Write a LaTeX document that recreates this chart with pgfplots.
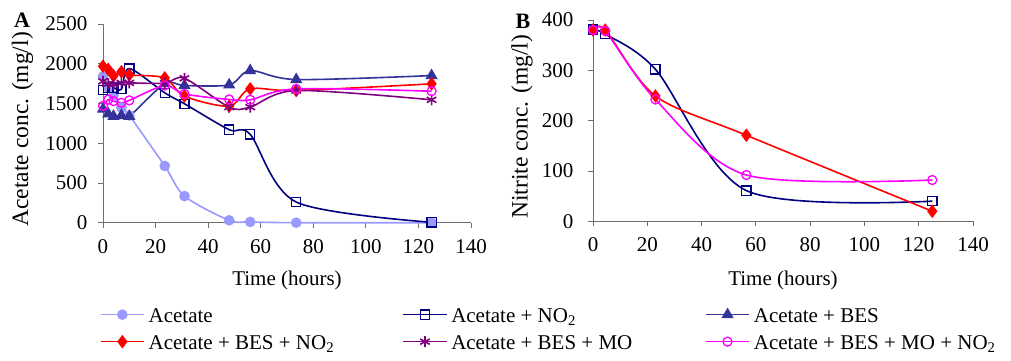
\documentclass[border=0pt]{standalone}
\usepackage{pgfplots}
\pgfplotsset{compat=1.18}
\usepackage{fontspec}
\setmainfont{Liberation Serif}
\definecolor{cAc}{RGB}{153,153,255}
\definecolor{cNO}{RGB}{0,0,128}
\definecolor{cBES}{RGB}{51,51,153}
\definecolor{cBN}{RGB}{255,0,0}
\definecolor{cBM}{RGB}{128,0,128}
\definecolor{cBMN}{RGB}{255,0,255}
\definecolor{axgray}{RGB}{110,110,110}
\begin{document}
\begin{tikzpicture}
\path[use as bounding box] (-103pt,-138.3pt) rectangle (908pt,222.7pt);
\pgfplotsset{
 base/.style={
  scale only axis,
  axis lines=left,
  axis line style={-, draw=axgray, line width=0.8pt},
  tick style={draw=axgray, line width=0.8pt},
  tick align=outside,
  major tick length=5pt,
  xmin=0, xmax=140, xtick={0,20,...,140},
  ymin=0,
  font=\fontsize{21}{25}\selectfont,
  /pgf/number format/assume math mode=true,
  /pgf/number format/set thousands separator={},
  xticklabel style={yshift=-8pt},
  every axis plot/.append style={line width=1.6pt, smooth},
  clip=false,
  legend image code/.code={\draw[mark repeat=2,mark phase=2,##1] plot coordinates {(0pt,0pt) (21.5pt,0pt) (43pt,0pt)};},
 },
}
\begin{axis}[base, width=368pt, height=198.6pt, ymax=2500, ytick={0,500,...,2500},
 yticklabel style={xshift=-7pt},
 xlabel={Time (hours)}, ylabel={Acetate conc. (mg/l)},
 xlabel style={at={(axis description cs:0.5,-0.289)}, anchor=center},
 ylabel style={at={(axis description cs:-0.219,0.47)}, anchor=center, font=\fontsize{23.5}{28}\selectfont},
 legend columns=3, legend cell align=left,
 legend style={at={(axis description cs:-0.008,-0.395)}, anchor=north west, draw=none, fill=none,
   inner sep=0pt, outer sep=0pt, row sep=0pt,
   nodes={inner sep=4pt, font=\fontsize{21}{25}\selectfont}},
]
\addplot[color=cAc, mark=*, mark size=4.5pt] coordinates {
 (0,1840) (2,1700) (4,1600) (7,1450) (10,1350) (23.5,715) (31,335) (48,30) (56,10) (73.5,0) (125,0)};
\addlegendentry{\makebox[250pt][l]{Acetate\strut}}
\addplot[color=cNO, mark=square, mark size=4.6pt, mark options={fill=white, line width=1.3pt}] coordinates {
 (0,1670) (2,1700) (4,1700) (7,1680) (10,1940) (23.5,1635) (31,1497) (48,1171) (56,1112) (73.5,260) (125,5)};
\addlegendentry{\makebox[250pt][l]{Acetate + NO\textsubscript{2}\strut}}
\addplot[color=cBES, mark=triangle*, mark size=5.5pt] coordinates {
 (0,1430) (2,1370) (4,1340) (7,1350) (10,1340) (23.5,1750) (31,1727) (48,1735) (56,1915) (73.5,1802) (125,1852)};
\addlegendentry{\makebox[250pt][l]{Acetate + BES\strut}}
\addplot[color=cBN, mark=diamond*, mark size=5.5pt] coordinates {
 (0,1970) (2,1930) (4,1850) (7,1900) (10,1860) (23.5,1823) (31,1593) (48,1467) (56,1685) (73.5,1664) (125,1748)};
\addlegendentry{\makebox[250pt][l]{Acetate + BES + NO\textsubscript{2}\strut}}
\addplot[color=cBM, mark=asterisk, mark size=5.5pt] coordinates {
 (0,1780) (2,1750) (4,1740) (7,1760) (10,1760) (23.5,1756) (31,1818) (48,1455) (56,1455) (73.5,1664) (125,1547)};
\addlegendentry{\makebox[250pt][l]{Acetate + BES + MO\strut}}
\addplot[color=cBMN, mark=o, mark size=4.5pt, mark options={line width=1.3pt}] coordinates {
 (0,1470) (2,1550) (4,1530) (7,1510) (10,1540) (23.5,1727) (31,1620) (48,1551) (56,1547) (73.5,1685) (125,1655)};
\addlegendentry{\makebox[250pt][l]{Acetate + BES + MO + NO\textsubscript{2}\strut}}
\end{axis}
\begin{axis}[base, at={(490pt,1.4pt)}, anchor=south west, width=380pt, height=201.3pt,
 ymax=400, ytick={0,100,...,400},
 yticklabel style={xshift=-11pt},
 xlabel={Time (hours)}, ylabel={Nitrite conc. (mg/l)},
 xlabel style={at={(axis description cs:0.5,-0.293)}, anchor=center},
 ylabel style={at={(axis description cs:-0.187,0.47)}, anchor=center, font=\fontsize{23.5}{28}\selectfont},
]
\addplot[color=cNO, mark=square, mark size=4.6pt, mark options={fill=white, line width=1.3pt}] coordinates {
 (0,381) (4.5,372) (23,302) (56.5,61) (125,40)};
\addplot[color=cBN, mark=diamond*, mark size=5.5pt] coordinates {
 (0,380) (4.5,380) (23,249) (56.5,171) (125,20)};
\addplot[color=cBMN, mark=o, mark size=4.5pt, mark options={line width=1.3pt}] coordinates {
 (0,380) (4.5,378) (23,242) (56.5,92) (125,82)};
\end{axis}
\node[font=\bfseries\fontsize{22}{26}\selectfont] at (-81pt,202.7pt) {A};
\node[font=\bfseries\fontsize{22}{26}\selectfont] at (420pt,201.2pt) {B};
\end{tikzpicture}
\end{document}
